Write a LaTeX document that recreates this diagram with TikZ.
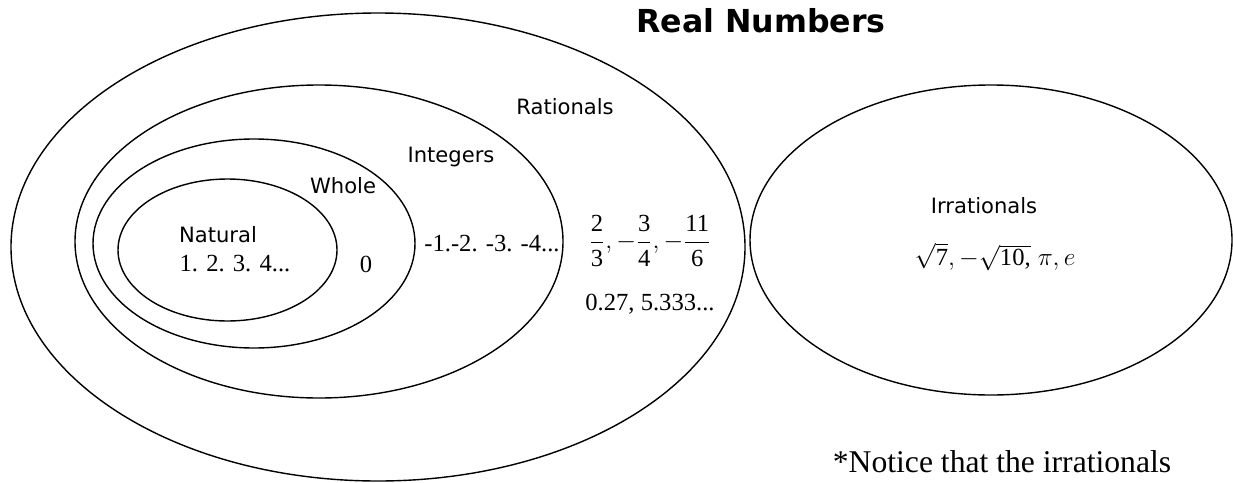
\documentclass[tikz,border=0pt]{standalone}
\usepackage{fontspec}
\usepackage{amsmath}
\setmainfont{Liberation Serif}
\setsansfont{DejaVu Sans}
\usepackage{tikz}
\usetikzlibrary{positioning,shapes.geometric}

\begin{document}
\begin{tikzpicture}[
node distance=3mm and 5mm,
set/.style={draw, ellipse, line width=0.8pt, inner sep=0pt},
lbl/.style={font=\sffamily\fontsize{12}{14}\selectfont, inner sep=1pt},
num/.style={font=\fontsize{14}{16}\selectfont, inner sep=1pt},
head/.style={font=\sffamily\bfseries\fontsize{18}{20}\selectfont}
]
\useasboundingbox (0,0) rectangle (24.66,-9.64);

% the sets
\node[set, minimum width=14.68cm, minimum height=9.36cm] (rat) at (7.56,-4.94) {};
\node[set, minimum width=9.76cm, minimum height=6.26cm] (int) at (6.38,-4.83) {};
\node[set, minimum width=6.44cm, minimum height=4.18cm] (whole) at (5.08,-4.87) {};
\node[set, minimum width=4.38cm, minimum height=2.84cm] (nat) at (4.55,-5.0) {};
\node[set, minimum width=9.64cm, minimum height=6.2cm] (irr) at (19.82,-4.8) {};

% names
\node[head] (real) at (15.22,-0.42) {Real Numbers};
\node[lbl] (ratname) at (11.3,-2.14) {Rationals};
\node[lbl] (intname) at (9.02,-3.14) {Integers};
\node[lbl] (wholename) at (6.86,-3.72) {Whole};
\node[lbl] (natname) at (4.36,-4.7) {Natural};
\node[lbl] (irrname) at (19.68,-4.12) {Irrationals};

% members
\node[num] (natnums) at (4.7,-5.28) {1. 2. 3. 4...};
\node[num] (zero) at (7.32,-5.28) {0};
\node[num] (neg) at (9.84,-4.88) {-1.-2. -3. -4...};
\node[num] (fracs) at (13.0,-4.82) {$\dfrac{\text{2}}{\text{3}},-\dfrac{\text{3}}{\text{4}},-\dfrac{\text{11}}{\text{6}}$};
\node[num] (decs) at (13.0,-6.08) {0.27, 5.333...};
\node[num] (irrnums) at (19.9,-5.14) {$\sqrt{\text{7}},-\sqrt{\text{10,}}\;\pi, e$};

\node[font=\fontsize{18}{20}\selectfont, inner sep=0pt] (note) at (20.04,-9.24) {*Notice that the irrationals};
\end{tikzpicture}
\end{document}
